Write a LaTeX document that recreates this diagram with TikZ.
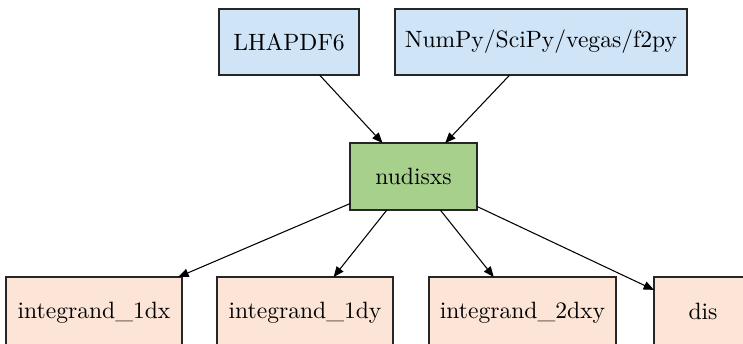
\documentclass[tikz,border=0pt]{standalone}
\usetikzlibrary{arrows.meta}
\definecolor{topblue}{RGB}{208,228,248}
\definecolor{midgreen}{RGB}{168,208,141}
\definecolor{botpeach}{RGB}{252,228,214}
\def\pxu{0.4237pt}
\tikzset{
  box/.style={draw=black!85, line width=0.5pt, inner sep=0pt, outer sep=0pt, font=\normalsize},
  toptier/.style={box, fill=topblue},
  midtier/.style={box, fill=midgreen},
  bottier/.style={box, fill=botpeach},
  link/.style={-{Triangle[length=4.4pt,width=3.6pt]}, line width=0.45pt, black}
}
\begin{document}
\begin{tikzpicture}[x=0.4237pt, y=-0.4237pt]
\useasboundingbox (0,0) rectangle (743,344);
\clip (0,0) rectangle (743,344);
\node[toptier, minimum width=140*\pxu, minimum height=66*\pxu] (lha) at (289,42) {LHAPDF6};
\node[toptier, minimum width=292*\pxu, minimum height=66*\pxu] (np) at (541,42) {NumPy/SciPy/vegas/f2py};
\node[midtier, minimum width=127*\pxu, minimum height=67*\pxu] (nud) at (413.5,176.5) {nudisxs};
\node[bottier, minimum width=176*\pxu, minimum height=72*\pxu] (i1) at (94,313) {\raisebox{1.06pt}{integrand\_1dx}};
\node[bottier, minimum width=176*\pxu, minimum height=72*\pxu] (i2) at (305,313) {\raisebox{1.06pt}{integrand\_1dy}};
\node[bottier, minimum width=187*\pxu, minimum height=72*\pxu] (i3) at (522.5,313) {\raisebox{1.06pt}{integrand\_2dxy}};
\node[bottier, minimum width=98*\pxu, minimum height=72*\pxu] (dis) at (703,313) {\raisebox{1.06pt}{dis}};
\draw[link] (lha) -- (nud);
\draw[link] (np) -- (nud);
\draw[link] (nud) -- (i1);
\draw[link] (nud) -- (i2);
\draw[link] (nud) -- (i3);
\draw[link] (nud) -- (dis);
\end{tikzpicture}
\end{document}
